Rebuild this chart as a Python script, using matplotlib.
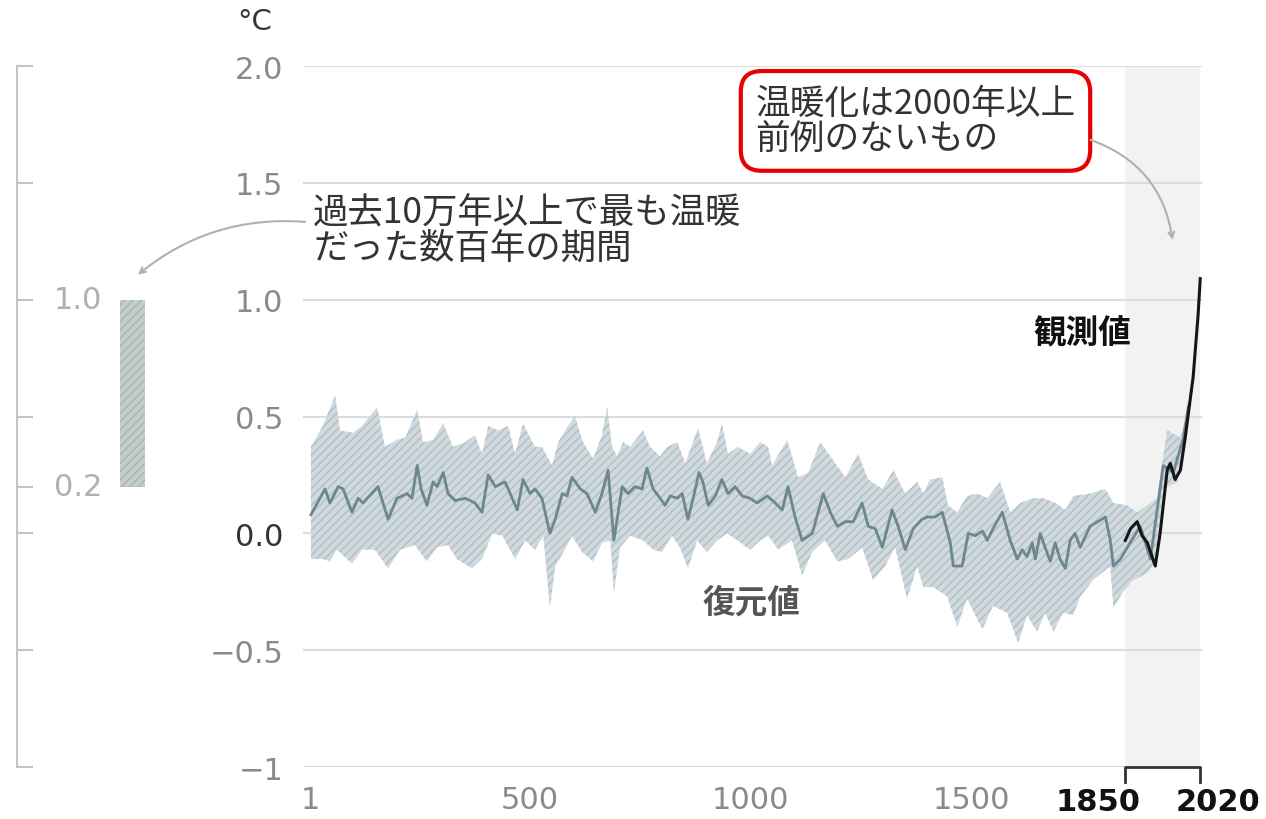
import matplotlib
matplotlib.use("Agg")
import matplotlib.pyplot as plt

plt.rcParams['font.family'] = ['DejaVu Sans', 'Noto Sans CJK JP']
plt.rcParams['hatch.linewidth'] = 1.0
JP = ['Noto Sans CJK JP', 'DejaVu Sans']

# --- données (anomalie de température, °C) ---
recon_years = [3, 35, 46, 65, 76, 96, 110, 121, 155, 178, 198, 210, 221, 232, 244, 253,
               266, 280, 289, 303, 314, 330, 353, 375, 391, 405, 421, 443, 455, 471, 484,
               500, 511, 527, 545, 557, 573, 584, 595, 614, 629, 648, 663, 677, 690, 709,
               722, 738, 754, 765, 779, 795, 806, 818, 834, 845, 858, 870, 883, 892, 904,
               920, 935, 949, 965, 981, 999, 1015, 1038, 1056, 1072, 1085, 1101, 1117,
               1140, 1165, 1181, 1197, 1215, 1233, 1253, 1267, 1283, 1299, 1321, 1335,
               1351, 1369, 1389, 1401, 1419, 1435, 1453, 1460, 1480, 1494, 1510, 1526,
               1537, 1550, 1571, 1589, 1605, 1616, 1627, 1639, 1646, 1657, 1668, 1680,
               1691, 1702, 1714, 1725, 1736, 1748, 1770, 1805, 1816, 1823, 1839, 1861,
               1884, 1907, 1936, 1959, 1982, 1993]
recon_median = [0.08, 0.19, 0.13, 0.20, 0.19, 0.09, 0.15, 0.13, 0.20, 0.06, 0.15, 0.16,
                0.17, 0.15, 0.29, 0.19, 0.12, 0.22, 0.20, 0.26, 0.17, 0.14, 0.15, 0.13,
                0.09, 0.25, 0.20, 0.22, 0.17, 0.10, 0.23, 0.17, 0.19, 0.15, 0.00, 0.06,
                0.17, 0.16, 0.24, 0.19, 0.17, 0.09, 0.17, 0.27, -0.03, 0.20, 0.17, 0.20,
                0.19, 0.28, 0.19, 0.15, 0.12, 0.16, 0.15, 0.17, 0.06, 0.15, 0.26, 0.22,
                0.12, 0.16, 0.23, 0.17, 0.20, 0.16, 0.15, 0.13, 0.16, 0.13, 0.10, 0.20,
                0.07, -0.03, 0.00, 0.17, 0.09, 0.03, 0.05, 0.05, 0.13, 0.03, 0.02, -0.06,
                0.10, 0.03, -0.07, 0.02, 0.06, 0.07, 0.07, 0.09, -0.04, -0.14, -0.14,
                0.00, -0.01, 0.01, -0.03, 0.02, 0.09, -0.03, -0.11, -0.07, -0.10, -0.04,
                -0.11, 0.00, -0.06, -0.12, -0.04, -0.11, -0.15, -0.03, 0.00, -0.06, 0.03,
                0.07, -0.03, -0.14, -0.11, -0.04, 0.03, -0.11, 0.29, 0.26, 0.41, 0.54]

upper_years = [3, 30, 58, 69, 99, 119, 153, 171, 198, 217, 244, 257, 280, 303, 325, 353,
               375, 391, 405, 428, 450, 466, 484, 511, 527, 550, 564, 586, 602, 620, 643,
               663, 675, 686, 697, 711, 727, 756, 772, 795, 811, 834, 852, 881, 901, 924,
               935, 949, 972, 999, 1022, 1040, 1049, 1083, 1108, 1131, 1158, 1185, 1215,
               1244, 1267, 1299, 1324, 1351, 1378, 1392, 1407, 1435, 1448, 1469, 1491,
               1514, 1537, 1566, 1589, 1612, 1639, 1664, 1691, 1714, 1732, 1770, 1805,
               1823, 1854, 1877, 1922, 1945, 1975, 1986, 1993]
upper_vals = [0.37, 0.46, 0.59, 0.44, 0.43, 0.46, 0.54, 0.37, 0.40, 0.41, 0.53, 0.39,
              0.40, 0.47, 0.37, 0.39, 0.42, 0.34, 0.46, 0.44, 0.46, 0.34, 0.47, 0.37,
              0.37, 0.29, 0.39, 0.46, 0.50, 0.39, 0.32, 0.42, 0.54, 0.37, 0.33, 0.39,
              0.37, 0.44, 0.37, 0.33, 0.37, 0.39, 0.30, 0.45, 0.30, 0.39, 0.47, 0.34,
              0.37, 0.34, 0.39, 0.37, 0.29, 0.40, 0.24, 0.26, 0.39, 0.32, 0.24, 0.34,
              0.23, 0.19, 0.27, 0.17, 0.22, 0.17, 0.23, 0.24, 0.12, 0.09, 0.16, 0.17,
              0.15, 0.22, 0.09, 0.13, 0.15, 0.15, 0.13, 0.10, 0.16, 0.17, 0.19, 0.13,
              0.12, 0.09, 0.15, 0.44, 0.41, 0.49, 0.58]

lower_years = [3, 30, 46, 62, 96, 119, 148, 178, 205, 239, 266, 289, 314, 334, 368, 391,
               414, 437, 466, 489, 511, 530, 545, 557, 579, 595, 618, 643, 663, 682, 690,
               704, 727, 756, 779, 799, 822, 840, 858, 879, 901, 924, 947, 970, 999, 1022,
               1040, 1063, 1094, 1117, 1140, 1169, 1197, 1222, 1253, 1278, 1305, 1328,
               1355, 1378, 1392, 1414, 1446, 1469, 1491, 1526, 1550, 1582, 1607, 1627,
               1650, 1668, 1687, 1709, 1732, 1748, 1777, 1816, 1823, 1845, 1868, 1900,
               1918, 1936, 1968, 1982, 1993]
lower_vals = [-0.11, -0.11, -0.12, -0.07, -0.13, -0.07, -0.07, -0.15, -0.07, -0.05,
              -0.12, -0.06, -0.05, -0.11, -0.15, -0.11, 0.00, -0.01, -0.11, -0.03,
              -0.07, -0.01, -0.32, -0.14, -0.07, -0.01, -0.08, -0.12, -0.04, -0.03,
              -0.26, -0.06, -0.01, -0.03, -0.07, -0.08, -0.01, -0.06, -0.15, -0.03,
              -0.08, -0.03, 0.00, -0.03, -0.07, -0.03, -0.01, -0.07, -0.03, -0.18,
              -0.08, -0.03, -0.12, -0.11, -0.06, -0.20, -0.14, -0.06, -0.28, -0.14,
              -0.23, -0.23, -0.27, -0.40, -0.28, -0.41, -0.31, -0.34, -0.47, -0.35,
              -0.42, -0.34, -0.42, -0.34, -0.35, -0.27, -0.20, -0.14, -0.32, -0.25,
              -0.20, -0.17, -0.12, 0.19, 0.22, 0.35, 0.50]

obs_years = [1850, 1862, 1877, 1888, 1900, 1918, 1929, 1945, 1952, 1963, 1975, 1986,
             1997, 2004, 2009, 2015, 2020]
obs_vals = [-0.03, 0.02, 0.05, -0.01, -0.04, -0.14, 0.00, 0.27, 0.30, 0.23, 0.27, 0.41,
            0.57, 0.67, 0.79, 0.93, 1.09]

warm_lo, warm_hi = 0.2, 1.0     # période chaude il y a plus de 100 000 ans

y_ticks = [-1, -0.5, 0.0, 0.5, 1.0, 1.5, 2.0]
y_labels = ['−1', '−0.5', '0.0', '0.5', '1.0', '1.5', '2.0']
x_ticks = [1, 500, 1000, 1500]
x_labels = ['1', '500', '1000', '1500']
left_ticks = [-1, -0.5, 0.0, 0.2, 0.5, 1.0, 1.5, 2.0]

# --- mise en page en pixels (origine en haut à gauche) ---
W, H = 1266, 820


def cadre(x0, y0, x1, y1):
    return [x0 / W, 1 - y1 / H, (x1 - x0) / W, (y1 - y0) / H]


fig = plt.figure(figsize=(W / 100, H / 100), dpi=100)
axl = fig.add_axes(cadre(0, 67, 303, 768))
ax = fig.add_axes(cadre(303, 67, 1202, 768))

# panneau de gauche
axl.patch.set_visible(False)
axl.set_xlim(0, 303)
axl.set_ylim(-1, 2)
for s in ['top', 'right', 'bottom']:
    axl.spines[s].set_visible(False)
axl.spines['left'].set_position(('data', 17))
axl.spines['left'].set_color('#c4c4c4')
axl.spines['left'].set_linewidth(1.5)
axl.set_xticks([])
axl.set_yticks(left_ticks)
axl.tick_params(axis='y', direction='in', length=11.5, width=1.5, color='#c4c4c4',
                labelleft=False)
axl.bar(132, warm_hi - warm_lo, bottom=warm_lo, width=25, color='#c3cecb',
        hatch='////', edgecolor='#a6b6b2', linewidth=0)
for v, t in [(warm_hi, '1.0'), (warm_lo, '0.2')]:
    axl.text(78, v, t, ha='center', va='center', fontsize=22, color='#a9b3b1')

# panneau principal
ax.set_xlim(-15, 2024)
ax.set_ylim(-1, 2)
for s in ax.spines.values():
    s.set_visible(False)
ax.axvspan(1850, 2020, color='#f2f2f2', zorder=0, linewidth=0)
ax.set_axisbelow(True)
ax.yaxis.grid(True, color='#dcdcdc', linewidth=1.5)

ax.fill(upper_years + lower_years[::-1], upper_vals + lower_vals[::-1],
        facecolor='#d0d9dd', edgecolor='#b1bec4', hatch='////', linewidth=0, zorder=2)
ax.plot(recon_years, recon_median, color='#6c8790', linewidth=2, zorder=3)
ax.plot(obs_years, obs_vals, color='#151515', linewidth=2.2, zorder=4)

ax.set_yticks(y_ticks)
ax.set_yticklabels(y_labels)
ax.tick_params(axis='y', length=0, pad=14, labelsize=22, labelcolor='#8a8a8a')
for lbl in ax.get_yticklabels():
    if lbl.get_text() == '0.0':
        lbl.set_color('#333333')
ax.set_xticks(x_ticks)
ax.set_xticklabels(x_labels)
ax.tick_params(axis='x', length=0, pad=13, labelsize=22, labelcolor='#8a8a8a')

# crochet 1850-2020 sous l'axe
ax.plot([1850, 1850, 2020, 2020], [-1.065, -1, -1, -1.065], color='#333333',
        linewidth=2, clip_on=False, zorder=5)
for an, dx in [(1850, -19.5), (2020, 13)]:
    ax.annotate(str(an), xy=(an, 0), xycoords=('data', 'axes fraction'),
                xytext=(dx, -25), textcoords='offset points', ha='center',
                va='center', fontsize=22, fontweight='bold', color='#111111',
                annotation_clip=False)

fig.text(255 / W, 1 - 22 / H, '°C', ha='center', va='center', fontsize=21,
         color='#333333')

# annotations
ax.text(8, 1.45, '過去10万年以上で最も温暖\nだった数百年の期間', family=JP,
        fontsize=25.5, color='#333333', ha='left', va='top', linespacing=0.98)
ax.annotate('', xy=(138, 1.107), xycoords=axl.transData, xytext=(-10, 1.333),
            textcoords='data', annotation_clip=False,
            arrowprops=dict(arrowstyle='->', color='#b0b0b0', lw=1.5,
                            connectionstyle='arc3,rad=0.2', shrinkA=0, shrinkB=0))

ax.text(1011, 1.765, '温暖化は2000年以上\n前例のないもの', family=JP, fontsize=25,
        color='#333333', ha='left', va='center', linespacing=1.02,
        bbox=dict(boxstyle='round,pad=0.42,rounding_size=0.6', fc='white',
                  ec='#e60000', lw=3))
ax.annotate('', xy=(1957, 1.256), xytext=(1771, 1.684),
            arrowprops=dict(arrowstyle='->', color='#b0b0b0', lw=1.5,
                            connectionstyle='arc3,rad=-0.3', shrinkA=0, shrinkB=0))

ax.text(1752, 0.86, '観測値', family=JP, fontsize=23.5, fontweight='bold',
        color='#111111', ha='center', va='center')
ax.text(1001, -0.295, '復元値', family=JP, fontsize=23.5, fontweight='bold',
        color='#555555', ha='center', va='center')

fig.savefig('out.png', dpi=100)
